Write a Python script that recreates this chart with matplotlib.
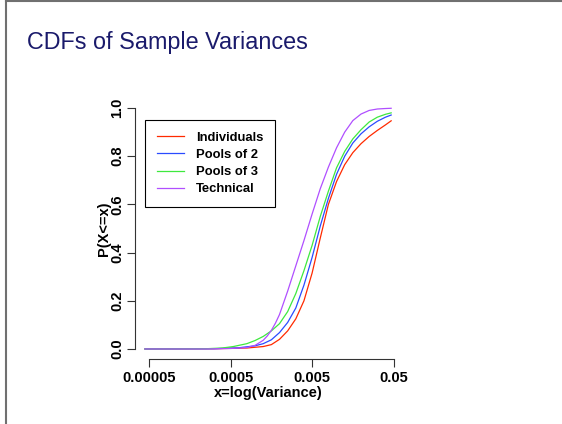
import numpy as np
import matplotlib
matplotlib.use("Agg")
import matplotlib.pyplot as plt
from matplotlib.lines import Line2D

plt.rcParams['font.family'] = ['Liberation Sans', 'DejaVu Sans']

# values: log10(variance) and P(X<=x)
tech_logx = [-4.35, -3.6, -3.3, -3.1, -3.0, -2.9, -2.85, -2.8, -2.75, -2.7, -2.6, -2.5,
             -2.4, -2.3, -2.2, -2.1, -2.0, -1.9, -1.8, -1.7, -1.6, -1.5, -1.4, -1.33]
tech_p = [0.0, 0.0, 0.002, 0.006, 0.015, 0.036, 0.054, 0.077, 0.107, 0.143, 0.24, 0.345,
          0.45, 0.56, 0.665, 0.755, 0.835, 0.9, 0.948, 0.975, 0.99, 0.996, 0.998, 0.999]

pool3_logx = [-4.35, -3.6, -3.4, -3.267, -3.1, -3.0, -2.9, -2.8, -2.7, -2.6, -2.5, -2.4,
              -2.3, -2.2, -2.1, -2.0, -1.9, -1.8, -1.7, -1.6, -1.5, -1.4, -1.33]
pool3_p = [0.0, 0.001, 0.004, 0.01, 0.022, 0.035, 0.052, 0.075, 0.105, 0.155, 0.23, 0.325,
           0.43, 0.55, 0.655, 0.752, 0.82, 0.872, 0.91, 0.942, 0.962, 0.974, 0.98]

pool2_logx = [-4.35, -3.5, -3.2, -3.0, -2.9, -2.8, -2.7, -2.6, -2.5, -2.4, -2.3, -2.2,
              -2.1, -2.0, -1.9, -1.8, -1.7, -1.6, -1.5, -1.4, -1.33]
pool2_p = [0.0, 0.001, 0.005, 0.013, 0.022, 0.038, 0.068, 0.11, 0.17, 0.265, 0.38, 0.51,
           0.625, 0.725, 0.8, 0.855, 0.893, 0.922, 0.945, 0.962, 0.971]

indiv_logx = [-4.35, -3.5, -3.1, -2.9, -2.8, -2.7, -2.6, -2.5, -2.4, -2.3, -2.2, -2.1,
              -2.0, -1.9, -1.8, -1.7, -1.6, -1.5, -1.4, -1.33]
indiv_p = [0.0, 0.001, 0.004, 0.01, 0.018, 0.04, 0.075, 0.125, 0.2, 0.315, 0.46, 0.6,
           0.695, 0.765, 0.815, 0.852, 0.882, 0.907, 0.93, 0.947]

labels = ["Individuals", "Pools of 2", "Pools of 3", "Technical"]
colors = ["#ff2a00", "#2a4bff", "#3ee83e", "#b04fff"]
xticks = [0.00005, 0.0005, 0.005, 0.05]
xticklabels = ["0.00005", "0.0005", "0.005", "0.05"]
yticks = [0.0, 0.2, 0.4, 0.6, 0.8, 1.0]

fig = plt.figure(figsize=(5.62, 4.24), dpi=100)
ax = fig.add_axes([135 / 562, 1 - 358.6 / 424, 267 / 562, 260.2 / 424])

series = [(indiv_logx, indiv_p), (pool2_logx, pool2_p), (pool3_logx, pool3_p), (tech_logx, tech_p)]
for (lx, p), lab, c in zip(series, labels, colors):
    ax.plot(10 ** np.array(lx), p, color=c, lw=0.9, label=lab)

ax.set_xscale('log')
ax.set_xlim(10 ** -4.473, 10 ** -1.197)
ax.set_ylim(-0.04, 1.04)
ax.minorticks_off()

ax.set_xticks(xticks)
ax.set_xticklabels(xticklabels, fontsize=10.5, fontweight='bold')
ax.set_yticks(yticks)
ax.set_yticklabels(["%.1f" % v for v in yticks], fontsize=10.5, fontweight='bold',
                   rotation=90, va='center')
ax.tick_params(axis='both', length=5.8, width=0.8, color='#333333')
ax.tick_params(axis='x', pad=3)
ax.tick_params(axis='y', pad=2)
ax.xaxis.set_minor_locator(matplotlib.ticker.NullLocator())

for s in ['top', 'right']:
    ax.spines[s].set_visible(False)
ax.spines['left'].set_bounds(0, 1)
ax.spines['bottom'].set_bounds(xticks[0], xticks[-1])
for s in ['left', 'bottom']:
    ax.spines[s].set_color('#333333')
    ax.spines[s].set_linewidth(0.8)
ax.patch.set_alpha(0)

ax.set_xlabel("x=log(Variance)", fontsize=10.5, fontweight='bold', labelpad=1)
ax.set_ylabel("P(X<=x)", fontsize=10.5, fontweight='bold')
ax.yaxis.set_label_coords(-0.09, 0.5)

leg = ax.legend(loc='upper left', bbox_to_anchor=(0.0375, 0.917), borderaxespad=0,
                fancybox=False, framealpha=1, edgecolor='black', borderpad=0.9,
                handlelength=2.08, handletextpad=0.95, labelspacing=0.38,
                prop={'size': 9.4, 'weight': 'bold'})
leg.get_frame().set_linewidth(0.8)

fig.text(27 / 562, 1 - 49 / 424, "CDFs of Sample Variances", fontsize=16.8,
         color='#1a1a6b', va='baseline', ha='left')

# slide border
fig.add_artist(Line2D([6 / 562, 6 / 562], [0, 1], transform=fig.transFigure,
                      color='#707070', lw=1.5))
fig.add_artist(Line2D([6 / 562, 1], [1 - 1 / 424, 1 - 1 / 424], transform=fig.transFigure,
                      color='#707070', lw=1.5))

fig.savefig("out.png", dpi=100)
